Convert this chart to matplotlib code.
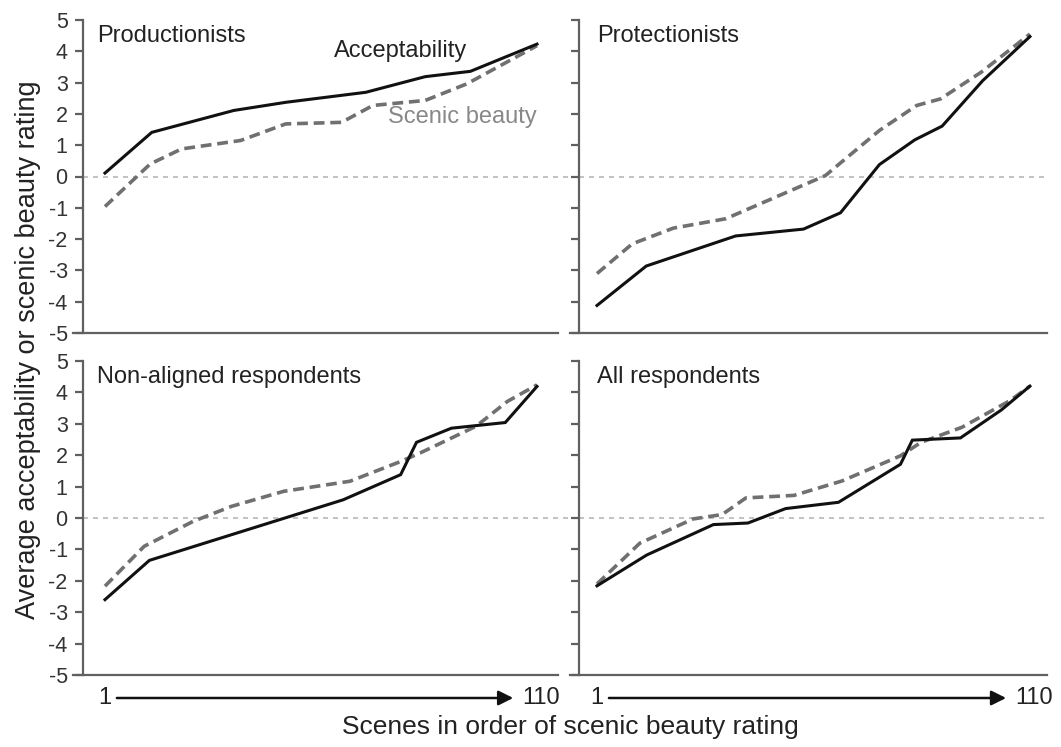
import matplotlib
matplotlib.use('Agg')
from matplotlib import pyplot as plt

plt.rc('font', family=['Liberation Sans', 'DejaVu Sans'], size=14)
plt.rc('axes', unicode_minus=False)

W, H = 1061, 747

# scene rank (1..110) and ratings
prod_acc_x = [1, 12.8, 33.5, 46.6, 66.8, 81.8, 93.2, 110]
prod_acc_y = [0.11, 1.41, 2.11, 2.37, 2.69, 3.19, 3.36, 4.23]
prod_sb_x = [1, 12.4, 20.3, 35.2, 46.6, 60.7, 68.6, 81.8, 92.3, 110]
prod_sb_y = [-0.96, 0.4, 0.88, 1.15, 1.68, 1.73, 2.27, 2.43, 2.96, 4.18]

prot_acc_x = [1, 13.4, 35.9, 53, 62.3, 72.1, 81, 87.9, 98.1, 110]
prot_acc_y = [-4.12, -2.86, -1.90, -1.68, -1.16, 0.38, 1.17, 1.61, 3.06, 4.47]
prot_sb_x = [1, 9.9, 20.2, 33.4, 58.5, 72.1, 81.5, 87.5, 97.7, 110]
prot_sb_y = [-3.1, -2.15, -1.65, -1.35, 0.03, 1.47, 2.27, 2.48, 3.33, 4.55]

nonal_acc_x = [1, 12.2, 61.1, 75.6, 79.6, 88.4, 102, 110]
nonal_acc_y = [-2.6, -1.35, 0.58, 1.38, 2.41, 2.86, 3.04, 4.19]
nonal_sb_x = [1, 10.9, 23.2, 32.9, 46.1, 62.8, 75.6, 80.5, 94.6, 102.5, 110]
nonal_sb_y = [-2.17, -0.9, -0.11, 0.37, 0.85, 1.17, 1.8, 2.07, 2.92, 3.71, 4.24]

all_acc_x = [1, 13.5, 30.3, 39, 48.5, 61.8, 77.4, 80.4, 92.5, 102.8, 110]
all_acc_y = [-2.16, -1.18, -0.21, -0.16, 0.3, 0.5, 1.71, 2.48, 2.55, 3.44, 4.2]
all_sb_x = [1, 11.8, 25.2, 32.5, 38.5, 50.6, 62.7, 77.4, 82.6, 92.9, 105, 110]
all_sb_y = [-2.1, -0.8, -0.03, 0.11, 0.64, 0.72, 1.18, 1.98, 2.41, 2.89, 3.74, 4.2]

titles = ['Productionists', 'Protectionists', 'Non-aligned respondents', 'All respondents']
panels = [(prod_acc_x, prod_acc_y, prod_sb_x, prod_sb_y),
          (prot_acc_x, prot_acc_y, prot_sb_x, prot_sb_y),
          (nonal_acc_x, nonal_acc_y, nonal_sb_x, nonal_sb_y),
          (all_acc_x, all_acc_y, all_sb_x, all_sb_y)]
yticks = list(range(-5, 6))

fig = plt.figure(figsize=(W/100, H/100), dpi=100)

# column / row geometry in pixels
cols = [(73, 485, (-7.07, 115.3), 10), (570, 477, (-5.8, 114.3), 9)]
rows = [(333, 313), (675, 314)]

spine_col = '#606060'
txt_col = '#222222'
for i, (acc_x, acc_y, sb_x, sb_y) in enumerate(panels):
    r, c = divmod(i, 2)
    x0, w, xlim, sp = cols[c]
    yb, h = rows[r]
    ax = fig.add_axes([x0/W, 1 - yb/H, w/W, h/H])
    ax.set_xlim(xlim)
    ax.set_ylim(-5, 5)

    # zero reference line, bridges the gap between columns
    xmax = 1 + 12/w if c == 0 else 1
    ax.axhline(0, xmin=sp/w, xmax=xmax, color='#b8b8b8', lw=1.2,
               ls=(0, (3, 3)), clip_on=False, zorder=1)

    ax.plot(sb_x, sb_y, color='#707070', lw=2.6, ls=(0, (3.0, 1.6)),
            zorder=2, clip_on=False)
    ax.plot(acc_x, acc_y, color='#111111', lw=2.2, zorder=3,
            solid_joinstyle='miter', clip_on=False)

    for s in ('top', 'right'):
        ax.spines[s].set_visible(False)
    ax.spines['left'].set_position(('axes', sp/w))
    for s in ('left', 'bottom'):
        ax.spines[s].set_color(spine_col)
        ax.spines[s].set_linewidth(1.6)
    ax.set_xticks([])
    ax.set_yticks(yticks)
    ax.tick_params(axis='y', direction='out', length=6, width=1.6,
                   color=spine_col, pad=5, labelsize=15.5, labelcolor='#333333')
    if c == 1:
        ax.set_yticklabels([])

    ax.text(0.05 if c == 0 else 0.057, 0.948, titles[i], transform=ax.transAxes,
            ha='left', va='center', fontsize=17, color=txt_col)

    if r == 0 and c == 0:
        ax.text(58.8, 4.02, 'Acceptability', ha='left', va='center',
                fontsize=17, color=txt_col)
        ax.text(72.4, 1.9, 'Scenic beauty', ha='left', va='center',
                fontsize=17, color='#888888')

    if r == 1:
        tr = ax.get_xaxis_transform()
        yy = -23/h
        ax.annotate('', xy=(104, yy), xytext=(4, yy), xycoords=tr, textcoords=tr,
                    arrowprops=dict(arrowstyle='-|>', color='#111111', lw=1.8,
                                    mutation_scale=22, shrinkA=0, shrinkB=0))
        ax.text(1, yy, '1', transform=tr, ha='center', va='center',
                fontsize=17, color=txt_col)
        ax.text(111, yy, '110', transform=tr, ha='center', va='center',
                fontsize=17, color=txt_col)

fig.text(28/W, 1 - 350/H, 'Average acceptability or scenic beauty rating',
         rotation=90, ha='center', va='center', fontsize=19.5, color=txt_col)
fig.text(570/W, 1 - 727/H, 'Scenes in order of scenic beauty rating',
         ha='center', va='center', fontsize=19, color=txt_col)

fig.savefig('out.png', dpi=100)
